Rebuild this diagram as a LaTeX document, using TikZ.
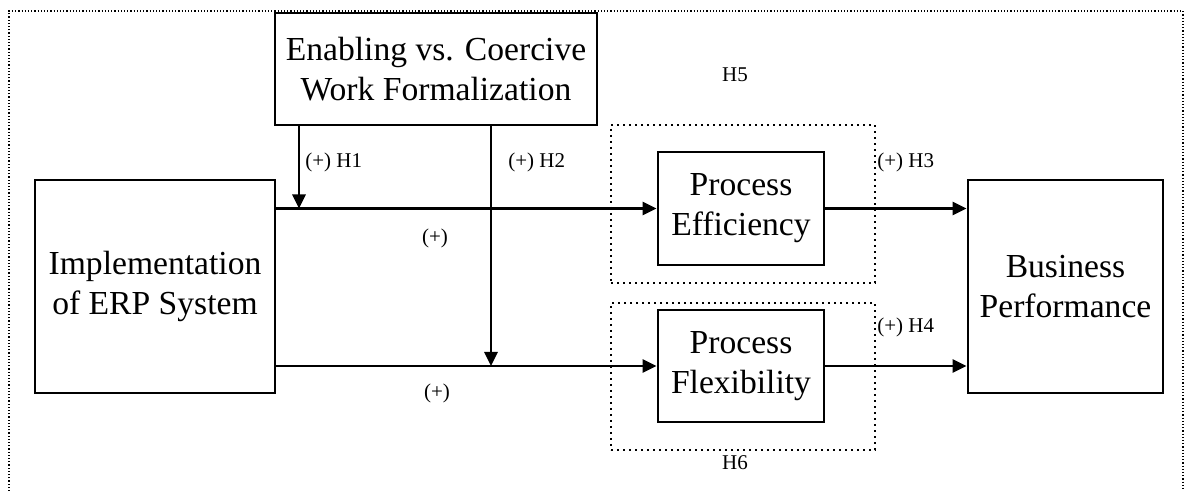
\documentclass[tikz,border=0pt]{standalone}
\usepackage{fontspec}
\setmainfont{Liberation Serif}
\usetikzlibrary{arrows.meta}

\begin{document}
\begin{tikzpicture}[x=.5pt,y=-.5pt,
  box/.style={draw,fill=white,line width=1.4pt,align=center,inner sep=0pt,font=\fontsize{16.8}{20}\selectfont},
  grp/.style={draw,dotted,line width=1pt,inner sep=0pt},
  lab/.style={font=\fontsize{10.5}{12}\selectfont,inner sep=0pt},
  post/.style={->,line width=1.4pt,>={Triangle[length=7pt,width=6.5pt]}}]

\useasboundingbox (0,0) rectangle (1194,491);

% outer frame, its bottom edge is off the page
\draw[densely dotted,line width=.6pt] (9,520) -- (9,11) -- (1183,11) -- (1183,520);

\node[grp,minimum width=132pt,minimum height=79pt] (g5) at (743,204) {};
\node[grp,minimum width=132pt,minimum height=73.5pt] (g6) at (743,376.5) {};

\node[box,minimum width=120pt,minimum height=106.5pt] (erp) at (155,286.5) {Implementation\\of ERP System};
\node[box,minimum width=161pt,minimum height=56pt] (form) at (436,69) {Enabling vs. Coercive\\Work Formalization};
\node[box,minimum width=83pt,minimum height=56.5pt] (eff) at (741,208.5) {Process\\Efficiency};
\node[box,minimum width=83pt,minimum height=56pt] (flex) at (741,366) {Process\\Flexibility};
\node[box,minimum width=97.5pt,minimum height=106.5pt] (perf) at (1065.5,286.5) {Business\\Performance};

%main paths
\draw[post] (erp.east |- eff.west) -- (eff.west);
\draw[post] (erp.east |- flex.west) -- (flex.west);
\draw[post] (eff.east) -- (perf.west |- eff.east);
\draw[post] (flex.east) -- (perf.west |- flex.east);

%moderation
\coordinate (m1) at (299,0 |- eff.west);
\coordinate (m2) at (491,0 |- flex.west);
\draw[post] (form.south -| m1) -- (m1);
\draw[post] (form.south -| m2) -- (m2);

\foreach \n/\x/\y in {1/305/162, 2/508/162, 3/877/162, 4/877/327}{
\node[lab,anchor=west] (h\n) at (\x,\y) {(+) H\n};
}
\node[lab] (p1) at (435,238) {(+)};
\node[lab] (p2) at (437,393) {(+)};
\node[lab] (h5) at (735,75) {H5};
\node[lab] (h6) at (735,463) {H6};

\end{tikzpicture}
\end{document}
